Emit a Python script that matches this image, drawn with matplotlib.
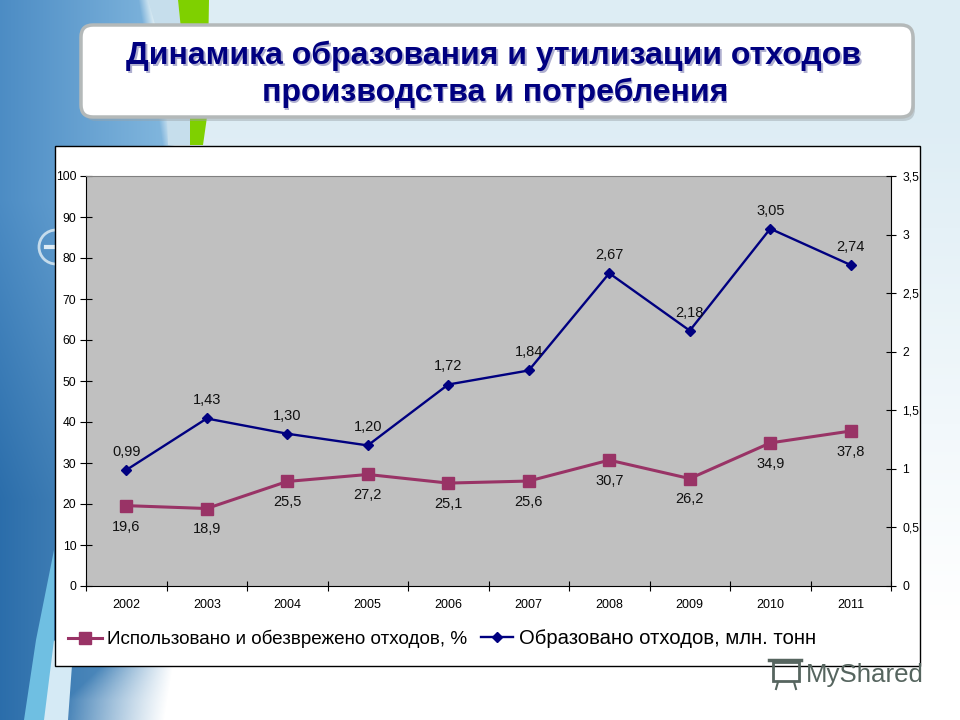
import matplotlib
matplotlib.use('Agg')
import matplotlib.pyplot as plt
import matplotlib.patches as patches
import numpy as np

years = ['2002', '2003', '2004', '2005', '2006', '2007', '2008', '2009', '2010', '2011']
used_pct = [19.6, 18.9, 25.5, 27.2, 25.1, 25.6, 30.7, 26.2, 34.9, 37.8]
formed_mt = [0.99, 1.43, 1.30, 1.20, 1.72, 1.84, 2.67, 2.18, 3.05, 2.74]
left_ticks = [0, 10, 20, 30, 40, 50, 60, 70, 80, 90, 100]
right_ticks = [0, 0.5, 1, 1.5, 2, 2.5, 3, 3.5]
right_labels = ['0', '0,5', '1', '1,5', '2', '2,5', '3', '3,5']
used_label = 'Использовано и обезврежено отходов, %'
formed_label = 'Образовано отходов, млн. тонн'
title_lines = ['Динамика образования и утилизации отходов', 'производства и потребления']

W, H = 960, 720
NAVY = '#000080'
PLUM = '#993366'
plt.rcParams['font.family'] = ['Liberation Sans', 'DejaVu Sans']

fig = plt.figure(figsize=(W / 100, H / 100), dpi=100)


def axes_px(x0, y0, x1, y1, **kw):
    # pixel box with y measured from the top of the image
    return fig.add_axes([x0 / W, 1 - y1 / H, (x1 - x0) / W, (y1 - y0) / H], **kw)


# --- slide background ---
bg = axes_px(0, 0, W, H)
bg.axis('off')

yy, xx = np.mgrid[0:H, 0:W]
base = np.ones((H, W, 3)) * np.array([0.87, 0.93, 0.96])
base = base + (1.0 - base) * np.clip((yy - 120) / 500, 0, 1)[..., None]
bg.imshow(base, extent=(0, W, H, 0), aspect='auto', zorder=0)

# blue wave on the left, fading to white at the bottom
blue = np.zeros((H, 230, 4))
for row in range(H):
    r_edge = 150 + 45 * np.sin(row / H * np.pi * 0.9)
    ramp = 12 + 90 * np.clip((row - 600) / 100, 0, 1)
    cols = np.arange(230)
    shade = np.clip(cols / 200, 0, 1)
    dark = np.clip((row - 200) / 300, 0, 1)
    blue[row, :, :3] = np.array([0.30, 0.55, 0.77]) - dark * np.array([0.13, 0.12, 0.10]) \
        + shade[:, None] * np.array([0.25, 0.2, 0.12])
    blue[row, :, 3] = np.clip((r_edge - cols) / ramp, 0, 1)
bg.imshow(blue, extent=(0, 230, H, 0), aspect='auto', zorder=1)
bg.set_xlim(0, W)
bg.set_ylim(H, 0)

# pale streaks in the lower left corner
bg.add_patch(patches.Polygon([(54, 550), (54, 665), (45, 720), (24, 720), (36, 640)],
                             fc='#6fbfe2', ec='none', zorder=2))
bg.add_patch(patches.Polygon([(54, 640), (72, 665), (68, 720), (44, 720)],
                             fc='#d5eaf5', ec='none', zorder=2))

# light band and green swoosh behind the title box
bg.add_patch(patches.Polygon([(148, 0), (178, 0), (190, 117), (190, 145), (168, 145), (165, 60)],
                             fc='#c6deec', ec='none', zorder=2))
bg.add_patch(patches.Polygon([(178, 0), (209, 0), (207, 117), (203, 145), (190, 145), (190, 117)],
                             fc='#7fd000', ec='none', zorder=2))
bg.add_patch(patches.Circle((56, 247), 17, fc='none', ec='#c5dcec', lw=2, zorder=2))
bg.plot([46, 66], [247, 247], color='#dcebf5', lw=3, zorder=2)

# title box
bg.add_patch(patches.FancyBboxPatch((84, 29), 831, 92, boxstyle='round,pad=0,rounding_size=12',
                                    fc='#9aa3a8', ec='none', alpha=0.45, zorder=3))
bg.add_patch(patches.FancyBboxPatch((81, 25), 832, 92, boxstyle='round,pad=0,rounding_size=12',
                                    fc='white', ec='#b4b9b9', lw=2.5, zorder=4))
for line, tx, ty in zip(title_lines, [494, 495], [56, 93]):
    bg.text(tx + 1.5, ty + 1.5, line, fontsize=23, fontweight='bold', color='#b0b0d0',
            ha='center', va='center', zorder=5)
    bg.text(tx, ty, line, fontsize=23, fontweight='bold', color=NAVY, ha='center', va='center', zorder=6)

# chart frame
bg.add_patch(patches.Rectangle((54.5, 145.5), 865, 520, fc='white', ec='black', lw=1, zorder=7))

# --- chart ---
ax = axes_px(86, 176, 891, 586)
ax.set_zorder(5)
ax.set_facecolor('#c0c0c0')
x = np.arange(len(years))
ax.plot(x, used_pct, color=PLUM, lw=2.2, marker='s', ms=8, zorder=3, clip_on=False)
ax.set_xlim(-0.5, len(years) - 0.5)
ax.set_ylim(0, 100)
ax.set_yticks(left_ticks)
ax.set_xticks(np.arange(-0.5, len(years)))
ax.set_xticklabels([])
ax.set_xticks(x, years, minor=True)
ax.tick_params(axis='x', which='minor', length=0, pad=9, labelsize=9)
ax.tick_params(axis='x', which='major', direction='inout', length=7, width=0.8)
ax.tick_params(axis='y', direction='inout', length=8, width=0.8, labelsize=8.7, pad=3)
ax.spines['top'].set_color('#808080')
ax.spines['right'].set_visible(False)

ax2 = ax.twinx()
ax2.plot(x, formed_mt, color=NAVY, lw=1.7, marker='D', ms=5.5, zorder=3, clip_on=False)
ax2.set_ylim(0, 3.5)
ax2.set_yticks(right_ticks, right_labels)
ax2.tick_params(axis='y', direction='inout', length=7, width=0.8, labelsize=8.7, pad=4.5)
ax2.spines['top'].set_visible(False)
ax2.spines['bottom'].set_visible(False)
ax2.spines['left'].set_visible(False)

for xi, v in zip(x, formed_mt):
    ax2.annotate(f'{v:.2f}'.replace('.', ','), (xi, v), xytext=(0, 8), textcoords='offset points',
                 ha='center', va='bottom', fontsize=10.5, color='#111111', annotation_clip=False)

for xi, v in zip(x, used_pct):
    ax.annotate(f'{v:.1f}'.replace('.', ','), (xi, v), xytext=(0, -10), textcoords='offset points',
                ha='center', va='top', fontsize=10.5, color='#111111', annotation_clip=False)

# --- legend, two separate blocks because the second label runs wider in the original ---
h1, = ax.plot([], [], color=PLUM, lw=2.2, marker='s', ms=8)
h2, = ax.plot([], [], color=NAVY, lw=1.7, marker='D', ms=5.5)
leg1 = fig.legend([h1], [used_label], loc='center left', bbox_to_anchor=(68 / W, 1 - 639 / H),
                  frameon=False, fontsize=13.6, handlelength=1.78, handletextpad=0.3,
                  borderaxespad=0, borderpad=0)
leg2 = fig.legend([h2], [formed_label], loc='center left', bbox_to_anchor=(481 / W, 1 - 639 / H),
                  frameon=False, fontsize=14.6, handlelength=1.6, handletextpad=0.25,
                  borderaxespad=0, borderpad=0)

# watermark
bg.text(806, 675, 'MyShared', fontsize=18.6, color='#56655f', va='center', zorder=8)
bg.add_patch(patches.Rectangle((773, 662), 26, 19, fc='none', ec='#56655f', lw=2, zorder=8))
bg.plot([769, 801], [660, 660], color='#56655f', lw=2.5, zorder=8)
bg.plot([778, 776], [682, 689], color='#56655f', lw=1.5, zorder=8)
bg.plot([794, 796], [682, 689], color='#56655f', lw=1.5, zorder=8)

fig.savefig('out.png', dpi=100)
